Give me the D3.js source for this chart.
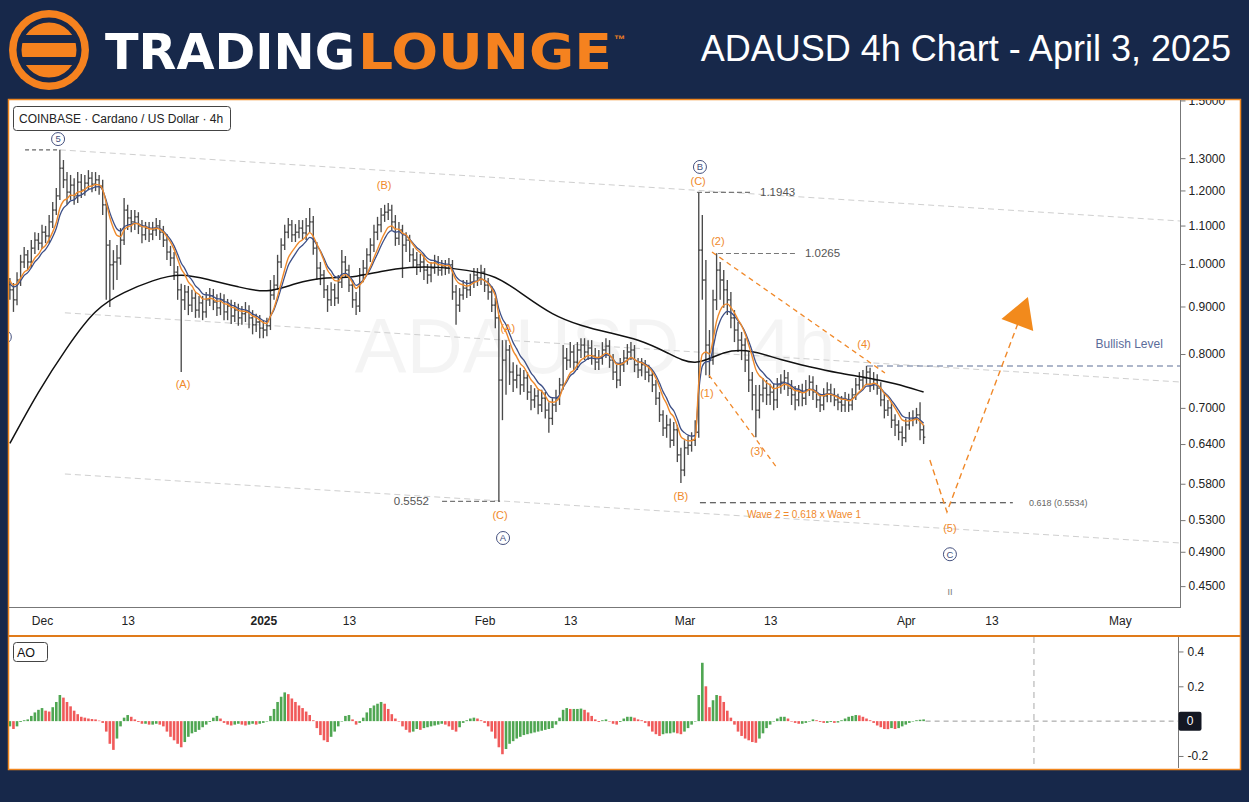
<!DOCTYPE html>
<html><head><meta charset="utf-8">
<script src="https://cdn.jsdelivr.net/npm/d3@7"></script>
<style>
html,body{margin:0;padding:0;background:#17284a;}
svg{display:block;font-family:"Liberation Sans",Arial,sans-serif;}
</style></head><body>
<svg id="c" width="1249" height="802"></svg>
<script>
// ---------------- DATA (12h bars, ADAUSD) ----------------
const barStart = "2024-11-26T12:00:00Z";
const firstOpen = 0.950;
const closes = [
0.938,0.915,0.961,1.005,1.023,1.005,1.040,1.061,1.053,1.082,
1.072,1.110,1.143,1.184,1.268,1.232,1.195,1.216,1.184,1.225,
1.201,1.222,1.237,1.219,1.232,1.213,1.158,1.048,0.998,1.005,
1.015,1.061,1.143,1.121,1.110,1.124,1.099,1.075,1.093,1.077,
1.088,1.099,1.082,1.061,1.030,1.015,0.980,0.938,0.915,0.933,
0.903,0.919,0.892,0.908,0.888,0.915,0.924,0.910,0.897,0.915,
0.888,0.901,0.879,0.892,0.875,0.884,0.888,0.875,0.860,0.866,
0.853,0.849,0.858,0.926,0.949,1.005,1.048,1.082,1.102,1.075,
1.082,1.093,1.080,1.099,1.110,1.040,0.990,0.973,0.938,0.915,
0.938,0.919,0.956,1.005,0.985,0.949,0.915,0.901,0.973,0.990,
1.023,1.048,1.082,1.102,1.129,1.137,1.143,1.110,1.066,1.088,
1.048,1.061,1.023,1.010,0.998,1.005,0.985,0.973,0.990,1.005,
0.985,0.995,0.990,0.998,0.933,0.903,0.926,0.942,0.938,0.956,
0.973,0.966,0.980,0.949,0.933,0.903,0.875,0.750,0.788,0.808,
0.765,0.750,0.759,0.741,0.754,0.728,0.714,0.721,0.705,0.717,
0.696,0.682,0.705,0.717,0.741,0.792,0.788,0.804,0.784,0.808,
0.818,0.804,0.812,0.796,0.784,0.792,0.808,0.816,0.788,0.765,
0.750,0.779,0.792,0.804,0.808,0.779,0.769,0.779,0.765,0.759,
0.741,0.717,0.688,0.666,0.671,0.646,0.663,0.623,0.600,0.634,
0.638,0.646,0.659,1.035,0.961,0.818,0.788,0.915,0.985,0.961,
0.938,0.915,0.875,0.849,0.828,0.818,0.788,0.750,0.723,0.696,
0.723,0.735,0.723,0.728,0.714,0.741,0.746,0.754,0.735,0.723,
0.714,0.728,0.717,0.732,0.746,0.728,0.714,0.705,0.721,0.732,
0.723,0.714,0.710,0.705,0.714,0.705,0.723,0.741,0.750,0.754,
0.765,0.741,0.750,0.735,0.714,0.696,0.700,0.679,0.671,0.659,
0.650,0.671,0.679,0.682,0.688,0.663,0.651];
const highs = [
0.966,0.954,0.980,1.023,1.043,1.035,1.061,1.082,1.080,1.102,
1.099,1.129,1.166,1.207,1.327,1.294,1.256,1.247,1.237,1.256,
1.250,1.247,1.262,1.256,1.256,1.247,1.232,1.172,1.061,1.035,
1.048,1.093,1.178,1.158,1.143,1.143,1.137,1.115,1.110,1.110,
1.110,1.121,1.115,1.099,1.077,1.046,1.030,0.995,0.952,0.949,
0.947,0.938,0.933,0.924,0.924,0.933,0.942,0.940,0.928,0.931,
0.928,0.917,0.915,0.910,0.906,0.901,0.910,0.903,0.892,0.884,
0.881,0.870,0.875,0.961,0.973,1.023,1.066,1.102,1.121,1.115,
1.104,1.115,1.115,1.121,1.149,1.126,1.056,1.005,0.985,0.949,
0.956,0.952,0.973,1.035,1.020,0.998,0.961,0.933,0.990,1.010,
1.040,1.066,1.102,1.124,1.149,1.158,1.163,1.158,1.129,1.110,
1.102,1.082,1.075,1.040,1.030,1.025,1.023,1.000,1.005,1.023,
1.020,1.010,1.010,1.015,1.010,0.949,0.942,0.961,0.961,0.976,
0.990,0.990,0.998,0.990,0.966,0.947,0.919,0.881,0.828,0.828,
0.818,0.784,0.779,0.773,0.769,0.765,0.741,0.735,0.732,0.732,
0.728,0.710,0.717,0.732,0.754,0.818,0.812,0.824,0.818,0.824,
0.832,0.832,0.828,0.828,0.812,0.808,0.824,0.832,0.828,0.800,
0.779,0.792,0.808,0.820,0.824,0.818,0.792,0.792,0.788,0.779,
0.769,0.750,0.728,0.696,0.688,0.682,0.676,0.671,0.634,0.646,
0.653,0.659,0.679,1.194,1.129,1.010,0.849,0.938,1.027,1.005,
0.985,0.961,0.933,0.892,0.866,0.845,0.832,0.804,0.765,0.741,
0.741,0.754,0.750,0.743,0.743,0.754,0.761,0.769,0.765,0.750,
0.739,0.741,0.743,0.750,0.759,0.757,0.741,0.725,0.735,0.746,
0.743,0.735,0.725,0.721,0.728,0.725,0.735,0.754,0.765,0.769,
0.777,0.773,0.765,0.761,0.746,0.725,0.714,0.710,0.689,0.679,
0.669,0.682,0.693,0.696,0.700,0.710,0.671];
const lows = [
0.915,0.888,0.903,0.947,0.990,0.985,0.990,1.025,1.035,1.038,
1.053,1.053,1.093,1.129,1.172,1.207,1.158,1.172,1.158,1.163,
1.178,1.184,1.201,1.195,1.198,1.187,1.129,0.915,0.899,0.938,
0.961,0.998,1.048,1.088,1.082,1.088,1.077,1.053,1.061,1.056,
1.061,1.072,1.061,1.043,1.010,0.995,0.961,0.915,0.765,0.892,
0.881,0.888,0.875,0.875,0.870,0.875,0.901,0.892,0.879,0.881,
0.870,0.870,0.862,0.866,0.858,0.860,0.866,0.853,0.840,0.845,
0.832,0.832,0.836,0.849,0.915,0.938,0.990,1.035,1.066,1.056,
1.056,1.066,1.061,1.061,1.082,1.023,0.961,0.949,0.919,0.888,
0.901,0.901,0.906,0.942,0.966,0.933,0.897,0.881,0.888,0.956,
0.973,1.005,1.030,1.061,1.082,1.110,1.115,1.088,1.046,1.048,
0.966,1.030,1.005,0.990,0.973,0.980,0.961,0.952,0.956,0.976,
0.971,0.971,0.973,0.976,0.915,0.860,0.888,0.915,0.919,0.924,
0.942,0.947,0.949,0.933,0.915,0.888,0.853,0.5552,0.679,0.723,
0.741,0.728,0.735,0.723,0.728,0.714,0.696,0.700,0.689,0.693,
0.682,0.658,0.671,0.693,0.705,0.732,0.769,0.773,0.769,0.769,
0.792,0.788,0.788,0.779,0.769,0.769,0.779,0.792,0.773,0.750,
0.735,0.739,0.765,0.779,0.788,0.765,0.754,0.757,0.750,0.746,
0.728,0.705,0.676,0.653,0.650,0.634,0.637,0.612,0.581,0.591,
0.623,0.628,0.637,0.650,0.915,0.759,0.754,0.779,0.892,0.915,
0.897,0.881,0.853,0.824,0.804,0.788,0.765,0.728,0.696,0.651,
0.682,0.710,0.705,0.705,0.696,0.700,0.725,0.732,0.721,0.705,
0.696,0.703,0.703,0.705,0.721,0.714,0.700,0.693,0.696,0.710,
0.710,0.703,0.696,0.693,0.693,0.693,0.696,0.714,0.732,0.735,
0.741,0.728,0.732,0.723,0.703,0.682,0.686,0.666,0.653,0.646,
0.637,0.643,0.663,0.669,0.673,0.646,0.640];
// Awesome Oscillator per 12h bar
const aoValues = [
-0.03,-0.045,-0.03,-0.005,0.005,0.01,0.03,0.05,0.065,0.075,
0.06,0.055,0.08,0.11,0.15,0.135,0.11,0.085,0.06,0.04,
0.025,0.02,0.015,0.012,0.01,0.003,-0.01,-0.06,-0.13,-0.165,
-0.1,-0.03,0.02,0.035,0.025,0.01,-0.005,-0.015,-0.015,-0.02,
-0.02,-0.015,-0.02,-0.03,-0.06,-0.09,-0.11,-0.13,-0.15,-0.12,
-0.09,-0.07,-0.062,-0.05,-0.035,-0.02,-0.005,0.02,0.03,0.015,
-0.01,-0.02,-0.025,-0.02,-0.015,-0.02,-0.025,-0.02,-0.015,-0.02,
-0.015,-0.01,0,0.03,0.07,0.11,0.14,0.165,0.155,0.13,
0.11,0.09,0.075,0.055,0.035,0.005,-0.04,-0.08,-0.11,-0.12,
-0.09,-0.06,-0.03,0,0.03,0.035,0.01,-0.02,-0.01,0.02,
0.05,0.075,0.09,0.1,0.11,0.1,0.07,0.04,0.015,0,
-0.03,-0.05,-0.065,-0.06,-0.045,-0.05,-0.04,-0.035,-0.03,-0.025,
-0.02,-0.015,-0.02,-0.03,-0.05,-0.06,-0.035,-0.01,0.005,0.015,
0.02,0.015,0.005,-0.01,-0.03,-0.06,-0.1,-0.15,-0.19,-0.16,
-0.13,-0.115,-0.1,-0.09,-0.08,-0.075,-0.07,-0.065,-0.06,-0.055,
-0.05,-0.045,-0.04,-0.02,0.02,0.065,0.075,0.07,0.07,0.07,
0.072,0.065,0.05,0.03,0.01,-0.005,0.005,0.01,0,-0.015,
-0.02,-0.005,0.015,0.025,0.025,0.02,0.01,0.005,-0.01,-0.03,
-0.06,-0.075,-0.085,-0.075,-0.07,-0.07,-0.065,-0.07,-0.075,-0.06,
-0.04,-0.02,0,0.15,0.335,0.2,0.08,0.12,0.15,0.145,
0.11,0.06,0.02,-0.02,-0.06,-0.085,-0.1,-0.11,-0.12,-0.124,
-0.1,-0.07,-0.04,-0.02,0,0.015,0.025,0.025,0.015,0,
-0.01,-0.015,-0.015,-0.01,0,0.01,0.005,-0.005,-0.01,-0.01,
-0.005,-0.01,-0.008,0.005,0.015,0.025,0.03,0.035,0.033,0.025,
0.015,0.005,-0.01,-0.025,-0.035,-0.045,-0.046,-0.04,-0.045,-0.04,
-0.03,-0.02,-0.01,0,0.005,0.008,0.01];
// long moving average (black), one value every 4 days from barStart
const maLongValues = [0.641,0.730,0.814,0.897,0.933,0.961,0.978,0.961,0.945,0.929,0.954,0.968,0.966,0.983,0.993,0.993,0.985,0.973,0.926,0.881,0.858,0.843,0.830,0.804,0.773,0.808,0.808,0.788,0.775,0.763,0.755,0.744,0.728];
const emaFastPeriod = 7, emaFastSeed = 0.968;
const emaSlowPeriod = 9, emaSlowSeed = 0.956;

const priceTicks = [1.5,1.3,1.2,1.1,1.0,0.9,0.8,0.7,0.64,0.58,0.53,0.49,0.45];
const aoTicks = [0.4,0.2,-0.2];
const dateTicks = ["2024-12-01","2024-12-13","2025-01-01","2025-01-13","2025-02-01","2025-02-13","2025-03-01","2025-03-13","2025-04-01","2025-04-13","2025-05-01"];
const dateTickLabels = ["Dec","13","2025","13","Feb","13","Mar","13","Apr","13","May"];

// wave labels
const waveText   = ["(A)","(B)","(A)","(C)","(B)","(C)","(1)","(2)","(3)","(4)","(5)"];
const waveDates  = ["2024-12-20T18:00Z","2025-01-17T22:00Z","2025-02-04T06:30Z","2025-02-03T04:00Z","2025-02-28T12:00Z","2025-03-02T22:00Z","2025-03-04T03:30Z","2025-03-05T16:30Z","2025-03-11T04:00Z","2025-03-26T03:30Z","2025-04-07T04:30Z"];
const wavePrices = [0.743,1.216,0.853,0.537,0.563,1.228,0.726,1.059,0.629,0.820,0.520];
const circText   = ["5","B","A","C","4"];
const circDates  = ["2024-12-03T06:00Z","2025-03-03T04:00Z","2025-02-03T14:00Z","2025-04-07T04:30Z","2024-11-25T19:00Z"];
const circPrices = [1.363,1.272,0.507,0.487,0.8345];

// levels
const levelNames  = ["peak5","1.1943","1.0265","0.5552","fib","bullish"];
const levelPrices = [1.327,1.1943,1.0265,0.5552,0.5534,0.7766];
const levelFrom   = ["2024-11-28T15:00Z","2025-03-02T18:00Z","2025-03-05T16:30Z","2025-01-26T01:00Z","2025-03-03T04:00Z","2025-03-26T13:30Z"];
const levelTo     = ["2024-12-03T06:00Z","2025-03-10T11:00Z","2025-03-16T11:30Z","2025-02-03T04:00Z","2025-04-16T00:00Z","2025-05-09T10:00Z"];

// channel lines (date, price) pairs
const channelStart = ["2024-12-03T12:00Z","2024-12-04T05:00Z","2024-12-04T05:00Z"];
const channelStartPrice = [1.327,0.886,0.5942];
const channelEnd = "2025-05-09T10:00Z";
const channelEndPrice = [1.1125,0.7464,0.5008];

// orange wave lines
const w24 = [["2025-03-04T20:24Z",1.0302],["2025-03-29T02:00Z",0.7632]];
const w13 = [["2025-03-04T10:20Z",0.7594],["2025-03-13T23:00Z",0.6031]];
const projection = [["2025-04-04T09:00Z",0.6152],["2025-04-06T18:30Z",0.5408],["2025-04-17T00:00Z",0.8747]];

// ---------------- SCALES ----------------
const svg = d3.select("#c");
const X0 = 9, X1 = 1180, Y0 = 100, Y1 = 607, A0 = 637, A1 = 768;
const x = d3.scaleUtc().domain([new Date("2024-11-26T09:00:00Z"), new Date("2025-05-09T10:00:00Z")]).range([X0, X1]);
const y = d3.scaleLog().domain([0.4273, 1.5016]).range([Y1, Y0]);
const yA = d3.scaleLinear().domain([-0.269, 0.483]).range([A1, A0]);
const t0 = new Date(barStart);
const tAt = i => new Date(+t0 + i * 12 * 3600e3);
const bars = closes.map((c, i) => ({t: tAt(i), o: i ? closes[i-1] : firstOpen, h: highs[i], l: lows[i], c}));
function ema(vals, n, seed){ const k = 2/(n+1); let e = seed; return vals.map(v => (e = e + k*(v-e))); }
const emaF = ema(closes, emaFastPeriod, emaFastSeed);
const emaS = ema(closes, emaSlowPeriod, emaSlowSeed);
const D = s => new Date(s);

// ---------------- PANEL ----------------
svg.append("rect").attr("x",8.5).attr("y",99.5).attr("width",1232).attr("height",670)
  .attr("fill","#fff").attr("stroke","#f0861e").attr("stroke-width",1.5);
svg.append("line").attr("x1",8).attr("x2",1241).attr("y1",636).attr("y2",636).attr("stroke","#e07b1a").attr("stroke-width",2);

const defs = svg.append("defs");
defs.append("clipPath").attr("id","clipMain").append("rect").attr("x",X0).attr("y",Y0).attr("width",X1-X0).attr("height",Y1-Y0);
defs.append("clipPath").attr("id","clipAxis").append("rect").attr("x",X1).attr("y",Y0).attr("width",60).attr("height",Y1-Y0+2);
defs.append("clipPath").attr("id","clipAO").append("rect").attr("x",X0).attr("y",A0).attr("width",X1-X0).attr("height",A1-A0);

const plot = svg.append("g").attr("clip-path","url(#clipMain)");

// watermark
plot.append("text").attr("x",595).attr("y",373).attr("text-anchor","middle")
  .attr("font-size",78).attr("fill","#000").attr("fill-opacity",0.045).text("ADAUSD · 4h");

// channel lines
const lineGen = d3.line().x(d => x(D(d[0]))).y(d => y(d[1]));
channelStart.forEach((s, k) => {
  plot.append("path").attr("d", lineGen([[s, channelStartPrice[k]],[channelEnd, channelEndPrice[k]]]))
    .attr("fill","none").attr("stroke","#cfcfcf").attr("stroke-width",1).attr("stroke-dasharray","6,4");
});

// levels
const levelStyle = {
  peak5:{c:"#666",d:"4,3"}, "1.1943":{c:"#777",d:"5,3"}, "1.0265":{c:"#777",d:"5,3"},
  "0.5552":{c:"#777",d:"5,3"}, fib:{c:"#333",d:"6,4"}, bullish:{c:"#5d6e96",d:"6,4"}
};
levelNames.forEach((n, k) => {
  plot.append("line").attr("x1",x(D(levelFrom[k]))).attr("x2",x(D(levelTo[k])))
    .attr("y1",y(levelPrices[k])).attr("y2",y(levelPrices[k]))
    .attr("stroke",levelStyle[n].c).attr("stroke-width",1.1).attr("stroke-dasharray",levelStyle[n].d);
});

// bars
const gb = plot.append("g").attr("stroke","#4a4a4a").attr("stroke-width",1.35);
gb.selectAll("line.v").data(bars).join("line").attr("class","v")
  .attr("x1",d=>x(d.t)).attr("x2",d=>x(d.t)).attr("y1",d=>y(d.h)).attr("y2",d=>y(d.l));
gb.selectAll("line.o").data(bars).join("line").attr("class","o")
  .attr("x1",d=>x(d.t)-1.7).attr("x2",d=>x(d.t)).attr("y1",d=>y(d.o)).attr("y2",d=>y(d.o));
gb.selectAll("line.c").data(bars).join("line").attr("class","c")
  .attr("x1",d=>x(d.t)).attr("x2",d=>x(d.t)+1.7).attr("y1",d=>y(d.c)).attr("y2",d=>y(d.c));

// moving averages
const maLine = d3.line().x(d=>x(d.t)).y(d=>y(d.v)).curve(d3.curveBasis);
plot.append("path").datum(maLongValues.map((v,k)=>({t:tAt(k*8), v})))
  .attr("d", maLine).attr("fill","none").attr("stroke","#111").attr("stroke-width",1.5);
const maLine2 = d3.line().x(d=>x(d.t)).y(d=>y(d.v)).curve(d3.curveMonotoneX);
plot.append("path").datum(emaS.map((v,i)=>({t:tAt(i), v})))
  .attr("d", maLine2).attr("fill","none").attr("stroke","#3d4f86").attr("stroke-width",1.3);
plot.append("path").datum(emaF.map((v,i)=>({t:tAt(i), v})))
  .attr("d", maLine2).attr("fill","none").attr("stroke","#ef8a2c").attr("stroke-width",1.4);

// orange wave lines
const OR = "#f0892a";
[w24, w13].forEach(seg => {
  plot.append("path").attr("d", lineGen(seg)).attr("fill","none").attr("stroke",OR)
    .attr("stroke-width",1.3).attr("stroke-dasharray","5,4");
});
plot.append("path").attr("d", lineGen(projection)).attr("fill","none").attr("stroke",OR)
  .attr("stroke-width",1.4).attr("stroke-dasharray","6,4");
{
  const p1 = projection[projection.length-2], p2 = projection[projection.length-1];
  const ax = x(D(p2[0])), ay = y(p2[1]), bx = x(D(p1[0])), by = y(p1[1]);
  const ang = Math.atan2(ay-by, ax-bx);
  const L = 30, Wd = 17;
  const ux = Math.cos(ang), uy = Math.sin(ang), px = -uy, py = ux;
  const tip = [ax + ux*L*0.75, ay + uy*L*0.75];
  const b1 = [ax - ux*L*0.25 + px*Wd, ay - uy*L*0.25 + py*Wd];
  const b2 = [ax - ux*L*0.25 - px*Wd, ay - uy*L*0.25 - py*Wd];
  plot.append("path").attr("d", d3.line()([tip,b1,b2]) + "Z").attr("fill","#f28a1c");
}

// level texts
const lt = plot.append("g").attr("font-size",11.5).attr("fill","#555");
lt.append("text").attr("x",x(D("2025-03-11T14:00Z"))).attr("y",y(1.1943)).attr("dy","0.35em").text("1.1943");
lt.append("text").attr("x",x(D("2025-03-17T21:00Z"))).attr("y",y(1.0265)).attr("dy","0.35em").text("1.0265");
lt.append("text").attr("x",x(D("2025-01-24T05:00Z"))).attr("y",y(0.5552)).attr("dy","0.35em").attr("text-anchor","end").text("0.5552");
lt.append("text").attr("x",x(D("2025-04-18T06:00Z"))).attr("y",y(0.5534)).attr("dy","0.35em").attr("font-size",9).attr("fill","#666").text("0.618 (0.5534)");
plot.append("text").attr("x",x(D("2025-05-07T00:30Z"))).attr("y",y(0.820)).attr("dy","0.35em").attr("text-anchor","end")
  .attr("font-size",12).attr("fill","#5b6c9a").text("Bullish Level");
plot.append("text").attr("x",x(D("2025-03-09T18:00Z"))).attr("y",y(0.537)).attr("dy","0.35em")
  .attr("font-size",10).attr("fill",OR).text("Wave 2 = 0.618 x Wave 1");
plot.append("text").attr("x",x(D("2025-04-07T04:30Z"))).attr("y",y(0.4435)).attr("dy","0.35em").attr("text-anchor","middle")
  .attr("font-size",9).attr("fill","#777").text("II");

// wave labels
plot.append("g").selectAll("text").data(waveText).join("text")
  .attr("x",(d,i)=>x(D(waveDates[i]))).attr("y",(d,i)=>y(wavePrices[i])).attr("dy","0.35em")
  .attr("text-anchor","middle").attr("font-size",11).attr("fill",OR).text(d=>d);
const cg = plot.append("g").selectAll("g").data(circText).join("g")
  .attr("transform",(d,i)=>`translate(${x(D(circDates[i]))},${y(circPrices[i])})`);
cg.append("circle").attr("r",6.5).attr("fill","#fff").attr("stroke","#44507e").attr("stroke-width",1);
cg.append("text").attr("dy","0.36em").attr("text-anchor","middle").attr("font-size",9.5).attr("fill","#44507e").text(d=>d);

// frame lines
svg.append("line").attr("x1",X0).attr("x2",X1).attr("y1",Y1+0.5).attr("y2",Y1+0.5).attr("stroke","#777");
svg.append("line").attr("x1",X1+0.5).attr("x2",X1+0.5).attr("y1",Y0).attr("y2",Y1+1).attr("stroke","#777");

// y axis
const ya = svg.append("g").attr("clip-path","url(#clipAxis)").append("g").attr("transform",`translate(${X1+0.5},0)`)
  .call(d3.axisRight(y).tickValues(priceTicks).tickFormat(d3.format(".4f")).tickSize(5).tickPadding(3));
ya.select(".domain").remove();
ya.selectAll("text").attr("font-size",12).attr("fill","#222").attr("font-family","Liberation Sans, Arial, sans-serif");
ya.selectAll("line").attr("stroke","#777");

// x axis
const xa = svg.append("g").attr("transform",`translate(0,${Y1})`)
  .call(d3.axisBottom(x).tickValues(dateTicks.map(s=>new Date(s+"T00:00:00Z"))).tickFormat((d,i)=>dateTickLabels[i]).tickSize(0).tickPadding(9));
xa.select(".domain").remove();
xa.selectAll("text").attr("font-size",12).attr("fill","#222").attr("font-family","Liberation Sans, Arial, sans-serif")
  .attr("font-weight",(d,i)=>dateTickLabels[i]==="2025"?"bold":"normal");

// COINBASE label
svg.append("rect").attr("x",13.5).attr("y",106.5).attr("width",217).attr("height",24).attr("rx",3)
  .attr("fill","#fff").attr("stroke","#444");
svg.append("text").attr("x",19).attr("y",123).attr("font-size",12).attr("fill","#222").text("COINBASE · Cardano / US Dollar · 4h");

// ---------------- AO PANEL ----------------
const ao = svg.append("g").attr("clip-path","url(#clipAO)");
const bw = 2.6;
ao.selectAll("rect").data(aoValues).join("rect")
  .attr("x",(d,i)=>x(tAt(i))-bw/2).attr("width",bw)
  .attr("y",d=>Math.min(yA(d),yA(0))).attr("height",d=>Math.max(0.5,Math.abs(yA(d)-yA(0))))
  .attr("fill",(d,i)=> (i===0 || d>=aoValues[i-1]) ? "#4fa652" : "#f05a5a");
ao.append("line").attr("x1",x(tAt(aoValues.length-1))+2).attr("x2",X1).attr("y1",yA(0)).attr("y2",yA(0))
  .attr("stroke","#999").attr("stroke-dasharray","5,4");
ao.append("line").attr("x1",x(D("2025-04-18T23:00Z"))).attr("x2",x(D("2025-04-18T23:00Z"))).attr("y1",A0).attr("y2",A1)
  .attr("stroke","#aaa").attr("stroke-dasharray","6,5");
svg.append("line").attr("x1",X1-1.5).attr("x2",X1-1.5).attr("y1",A0).attr("y2",A1).attr("stroke","#777");
const aa = svg.append("g").attr("transform",`translate(${X1-1.5},0)`)
  .call(d3.axisRight(yA).tickValues(aoTicks).tickFormat(d=>String(d)).tickSize(5).tickPadding(4));
aa.select(".domain").remove();
aa.selectAll("text").attr("font-size",12).attr("fill","#222").attr("font-family","Liberation Sans, Arial, sans-serif");
aa.selectAll("line").attr("stroke","#777");
svg.append("rect").attr("x",X1-1.5).attr("y",yA(0)-9.5).attr("width",23).attr("height",19).attr("rx",2).attr("fill","#131722");
svg.append("text").attr("x",X1+10).attr("y",yA(0)).attr("dy","0.35em").attr("text-anchor","middle").attr("font-size",12).attr("fill","#fff").text("0");
svg.append("rect").attr("x",13.5).attr("y",642.5).attr("width",34).attr("height",19).attr("rx",3).attr("fill","#fff").attr("stroke","#444");
svg.append("text").attr("x",17).attr("y",657).attr("font-size",12.5).attr("fill","#111").text("AO");

// ---------------- HEADER ----------------
const NAVY = "#17284a", ORL = "#f5821f";
svg.append("circle").attr("cx",49).attr("cy",50).attr("r",40).attr("fill",ORL);
svg.append("circle").attr("cx",49).attr("cy",50).attr("r",30).attr("fill","none").attr("stroke",NAVY).attr("stroke-width",5);
defs.append("clipPath").attr("id","logoIn").append("circle").attr("cx",49).attr("cy",50).attr("r",30);
const lg = svg.append("g").attr("clip-path","url(#logoIn)");
lg.append("rect").attr("x",10).attr("y",35).attr("width",80).attr("height",8).attr("fill",NAVY);
lg.append("rect").attr("x",10).attr("y",57).attr("width",80).attr("height",8).attr("fill",NAVY);
svg.append("text").attr("x",105).attr("y",69).attr("font-family","DejaVu Sans, sans-serif").attr("font-weight","bold")
  .attr("font-size",50).attr("fill","#fff").attr("textLength",250).attr("lengthAdjust","spacingAndGlyphs").text("TRADING");
svg.append("text").attr("x",358).attr("y",69).attr("font-family","DejaVu Sans, sans-serif").attr("font-weight","bold")
  .attr("font-size",50).attr("fill",ORL).attr("textLength",254).attr("lengthAdjust","spacingAndGlyphs").text("LOUNGE");
svg.append("text").attr("x",614).attr("y",43).attr("font-size",11).attr("font-weight","bold").attr("fill",ORL).text("™");
svg.append("text").attr("x",1231).attr("y",61).attr("text-anchor","end").attr("font-size",36).attr("fill","#fff")
  .text("ADAUSD 4h Chart - April 3, 2025");
</script>
</body></html>
